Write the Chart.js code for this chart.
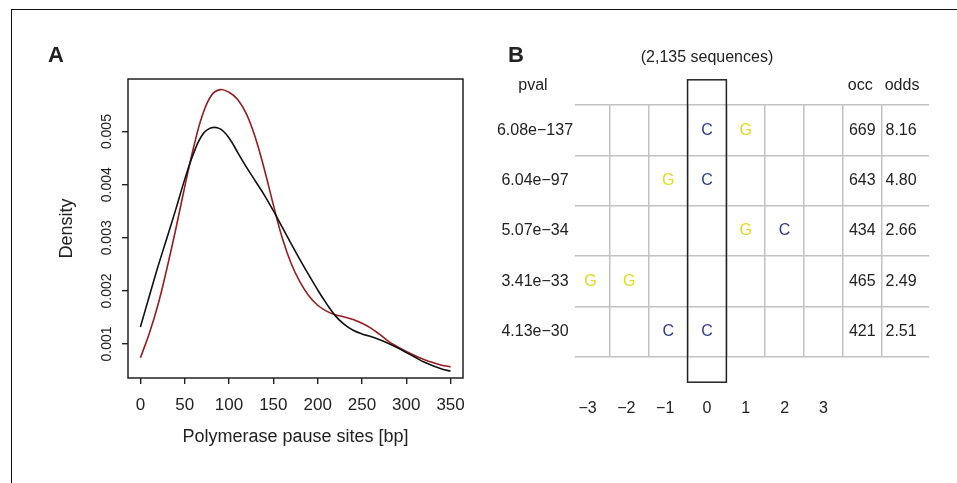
<!DOCTYPE html>
<html>
<head>
<meta charset="utf-8">
<script src="https://cdn.jsdelivr.net/npm/chart.js@4.4.1/dist/chart.umd.min.js"></script>
<style>
  body { margin: 0; background: #fff; }
  #wrap { position: relative; width: 957px; height: 483px; overflow: hidden; }
  #frame { position: absolute; left: 11px; top: 9px; right: -2px; bottom: -2px;
           border-top: 1px solid #111; border-left: 1px solid #111; }
  canvas { position: absolute; top: 0; }
  #chartA { left: 0; }
  #chartB { left: 480px; }
</style>
</head>
<body>
<div id="wrap">
  <div id="frame"></div>
  <canvas id="chartA" width="480" height="483"></canvas>
  <canvas id="chartB" width="477" height="483"></canvas>
</div>
<script>
const FONT = "'Liberation Sans', Arial, Helvetica, sans-serif";
const INK = '#222';

// panel A - density of pause site positions
const pausePos = [0, 10, 20, 30, 40, 50, 60, 70, 80, 90, 100, 110, 120, 130, 140, 150, 160, 170,
                  180, 190, 200, 210, 220, 230, 240, 250, 260, 270, 280, 290, 300, 310, 320, 330, 340, 350];
const densityBlack = [0.00132, 0.00190, 0.00247, 0.00300, 0.00354, 0.00410, 0.00459, 0.00494, 0.00507, 0.00505,
                      0.00488, 0.00460, 0.00432, 0.00406, 0.00380, 0.00351, 0.00320, 0.00289, 0.00259, 0.00230,
                      0.00202, 0.00176, 0.00153, 0.00137, 0.00126, 0.00119, 0.00114, 0.00108, 0.00101, 0.00093,
                      0.00084, 0.00075, 0.00066, 0.00059, 0.00053, 0.00049];
const densityRed = [0.00074, 0.00120, 0.00175, 0.00243, 0.00317, 0.00396, 0.00470, 0.00531, 0.00568, 0.00579,
                    0.00574, 0.00560, 0.00532, 0.00487, 0.00428, 0.00362, 0.00300, 0.00252, 0.00217, 0.00191,
                    0.00173, 0.00162, 0.00155, 0.00151, 0.00146, 0.00139, 0.00130, 0.00118, 0.00105, 0.00095,
                    0.00086, 0.00078, 0.00071, 0.00065, 0.00060, 0.00057];
const xTicksA = [0, 50, 100, 150, 200, 250, 300, 350];
const yTicksA = [0.001, 0.002, 0.003, 0.004, 0.005];

// panel B - motif table
const positions = [-3, -2, -1, 0, 1, 2, 3];
const pvals = ['6.08e\u2212137', '6.04e\u221297', '5.07e\u221234', '3.41e\u221233', '4.13e\u221230'];
const motifs = [
  ['', '', '', 'C', 'G', '', ''],
  ['', '', 'G', 'C', '', '', ''],
  ['', '', '', '', 'G', 'C', ''],
  ['G', 'G', '', '', '', '', ''],
  ['', '', 'C', 'C', '', '', '']
];
const occ = [669, 643, 434, 465, 421];
const odds = [8.16, 4.80, 2.66, 2.49, 2.51];
const seqNote = '(2,135 sequences)';
const occCol = 4, oddsCol = 5;
const letterColors = { G: '#e4dc1c', C: '#2d3b8c' };

const toPts = ys => pausePos.map((x, i) => ({ x: x, y: ys[i] }));

// ---------- panel A ----------
const panelA = {
  id: 'panelA',
  afterDatasetsDraw(chart) {
    const { ctx, chartArea: a } = chart;
    const ys = chart.scales.y;
    ctx.save();
    ctx.strokeStyle = INK;
    ctx.lineWidth = 1.5;
    ctx.strokeRect(a.left, a.top, a.right - a.left, a.bottom - a.top);
    ctx.fillStyle = INK;
    ctx.textAlign = 'center';
    ctx.textBaseline = 'middle';
    ctx.font = '14px ' + FONT;
    yTicksA.forEach(v => {
      ctx.save();
      ctx.translate(a.left - 21, ys.getPixelForValue(v));
      ctx.rotate(-Math.PI / 2);
      ctx.fillText(v.toFixed(3), 0, 0);
      ctx.restore();
    });
    ctx.font = 'bold 22px ' + FONT;
    ctx.fillText('A', 56, 56);
    ctx.restore();
  }
};

new Chart(document.getElementById('chartA'), {
  type: 'line',
  data: {
    datasets: [
      { label: 'black', data: toPts(densityBlack), borderColor: '#111', borderWidth: 1.6,
        pointRadius: 0, tension: 0.4, fill: false },
      { label: 'red', data: toPts(densityRed), borderColor: '#991c1f', borderWidth: 1.6,
        pointRadius: 0, tension: 0.4, fill: false }
    ]
  },
  options: {
    responsive: false, animation: false, devicePixelRatio: 1,
    layout: { padding: { top: 79, right: 17, left: 0, bottom: 0 } },
    plugins: { legend: { display: false }, tooltip: { enabled: false } },
    scales: {
      x: {
        type: 'linear', min: -14, max: 364,
        afterBuildTicks: s => { s.ticks = xTicksA.map(v => ({ value: v })); },
        afterFit: s => { s.height = 105; },
        grid: { drawOnChartArea: false, tickLength: 6, color: INK, lineWidth: 1.4 },
        border: { display: false },
        ticks: { font: { family: FONT, size: 17 }, color: INK, padding: 11, maxRotation: 0, autoSkip: false },
        title: { display: true, text: 'Polymerase pause sites [bp]', color: INK,
                 font: { family: FONT, size: 18 }, padding: { top: 0, bottom: 35 } }
      },
      y: {
        type: 'linear', min: 0.00036, max: 0.00599,
        afterBuildTicks: s => { s.ticks = yTicksA.map(v => ({ value: v })); },
        afterFit: s => { s.width = 128; },
        grid: { drawOnChartArea: false, tickLength: 6, color: INK, lineWidth: 1.4 },
        border: { display: false },
        ticks: { display: false },
        title: { display: true, text: 'Density', color: INK,
                 font: { family: FONT, size: 18 }, padding: { top: 56, bottom: 0 } }
      }
    }
  },
  plugins: [panelA]
});

// ---------- panel B ----------
const letterPts = [];
motifs.forEach((row, r) => row.forEach((ch, c) => {
  if (ch) letterPts.push({ x: positions[c], y: r + 1, ch: ch });
}));
const gridX = positions.map(p => p + 0.5).concat([occCol + 0.5]);
const gridY = pvals.map((_, i) => i + 0.5).concat([pvals.length + 0.5]);

const panelB = {
  id: 'panelB',
  afterDraw(chart) {
    const { ctx, chartArea: a } = chart;
    const xs = chart.scales.x, ys = chart.scales.y;
    ctx.save();
    ctx.textAlign = 'center';
    ctx.textBaseline = 'middle';
    ctx.font = '16px ' + FONT;

    // motif letters at the dataset's points
    chart.getDatasetMeta(0).data.forEach((el, i) => {
      ctx.fillStyle = letterColors[letterPts[i].ch];
      ctx.fillText(letterPts[i].ch, el.x, el.y);
    });

    ctx.fillStyle = INK;
    pvals.forEach((p, i) => {
      const y = ys.getPixelForValue(i + 1);
      ctx.fillText(p, a.left - 40, y);
      ctx.fillText(String(occ[i]), xs.getPixelForValue(occCol), y);
      ctx.fillText(odds[i].toFixed(2), xs.getPixelForValue(oddsCol), y);
    });

    const hy = a.top - 19;
    ctx.fillText('pval', a.left - 42, hy);
    ctx.fillText('occ', xs.getPixelForValue(occCol) - 2, hy);
    ctx.fillText('odds', xs.getPixelForValue(oddsCol) + 1, hy);
    ctx.fillText(seqNote, xs.getPixelForValue(0), 58);

    positions.forEach(p => {
      const t = p < 0 ? '\u2212' + Math.abs(p) : String(p);
      ctx.fillText(t, xs.getPixelForValue(p) - (p < 0 ? 3 : 0), 409);
    });

    // box around the centre column
    ctx.strokeStyle = INK;
    ctx.lineWidth = 1.5;
    const bx0 = xs.getPixelForValue(-0.5), bx1 = xs.getPixelForValue(0.5);
    const by0 = ys.getPixelForValue(0), by1 = ys.getPixelForValue(pvals.length + 1);
    ctx.strokeRect(bx0, by0, bx1 - bx0, by1 - by0);

    ctx.font = 'bold 22px ' + FONT;
    ctx.fillText('B', 36, 56);
    ctx.restore();
  }
};

new Chart(document.getElementById('chartB'), {
  type: 'scatter',
  data: { datasets: [{ label: 'motif', data: letterPts, pointRadius: 0 }] },
  options: {
    responsive: false, animation: false, devicePixelRatio: 1,
    layout: { padding: { top: 105, right: 28, left: 0, bottom: 0 } },
    plugins: { legend: { display: false }, tooltip: { enabled: false } },
    scales: {
      x: {
        type: 'linear', min: -3.4, max: 5.72,
        afterBuildTicks: s => { s.ticks = gridX.map(v => ({ value: v })); },
        afterFit: s => { s.height = 126; },
        grid: { color: '#c2c2c2', lineWidth: 1.5, drawTicks: false },
        border: { display: false },
        ticks: { display: false }
      },
      y: {
        type: 'linear', reverse: true, min: 0.5, max: 5.5,
        afterBuildTicks: s => { s.ticks = gridY.map(v => ({ value: v })); },
        afterFit: s => { s.width = 95; },
        grid: { color: '#c2c2c2', lineWidth: 1.5, drawTicks: false },
        border: { display: false },
        ticks: { display: false }
      }
    }
  },
  plugins: [panelB]
});
</script>
</body>
</html>
